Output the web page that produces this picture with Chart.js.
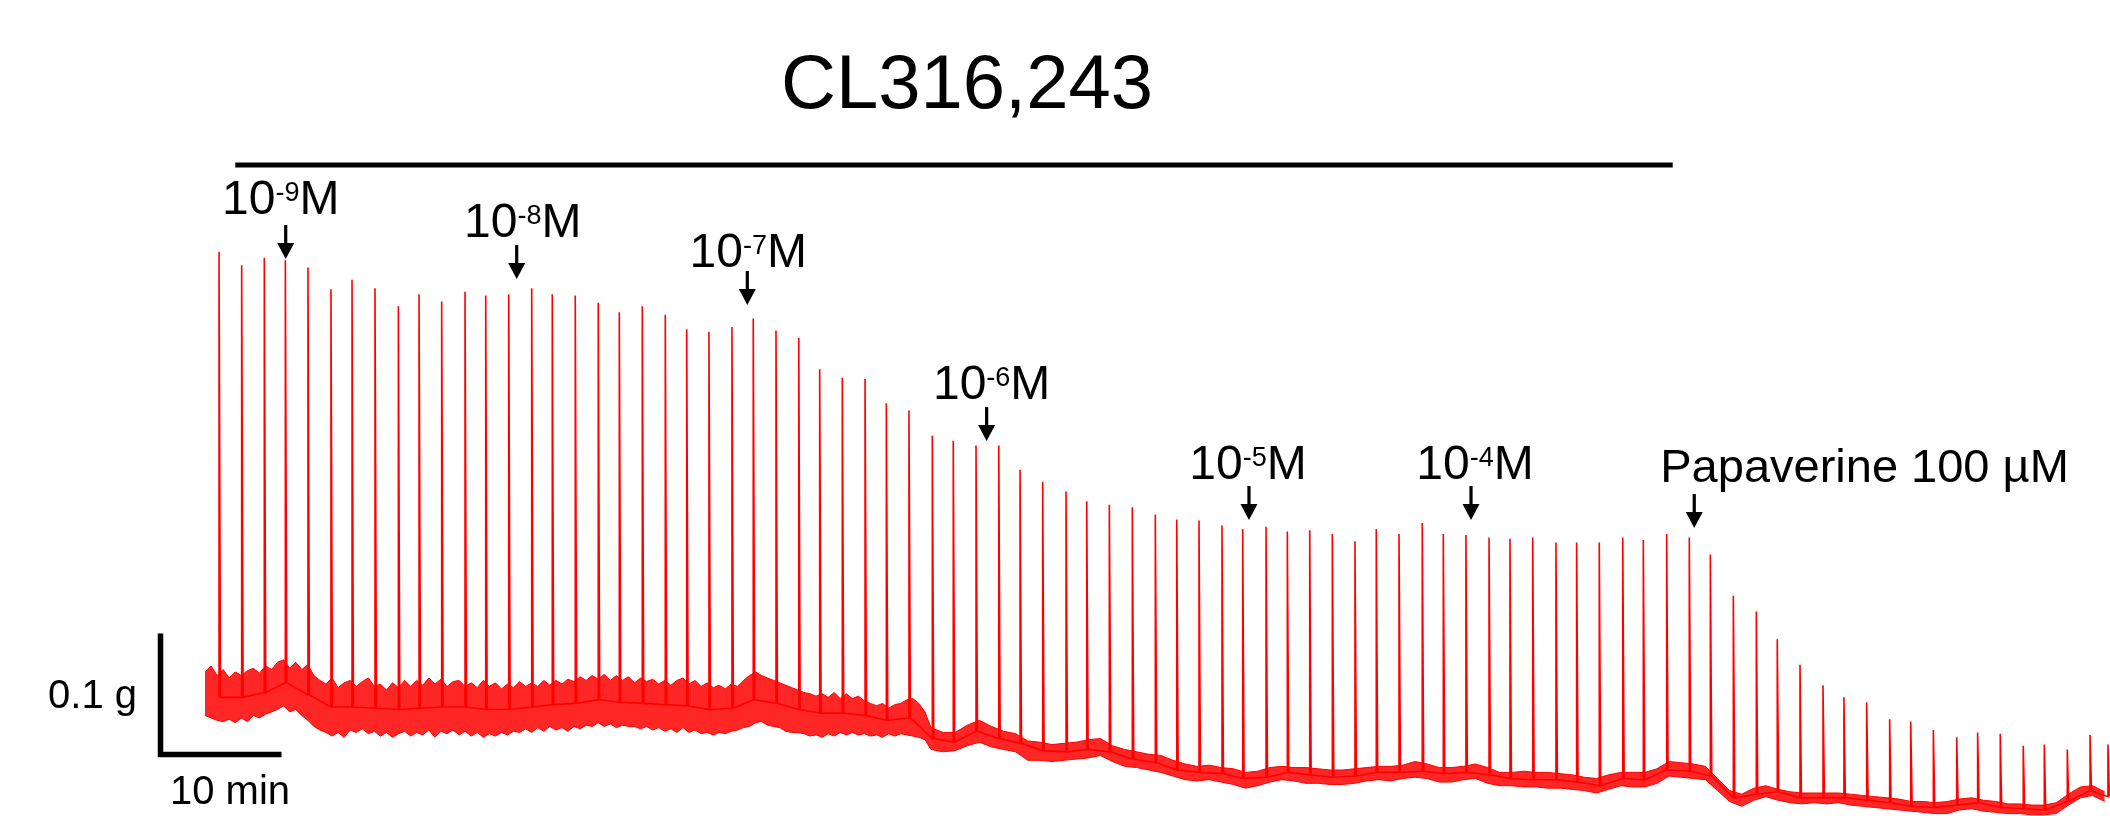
<!DOCTYPE html>
<html>
<head>
<meta charset="utf-8">
<title>CL316,243</title>
<script src="https://cdn.jsdelivr.net/npm/chart.js@4/dist/chart.umd.min.js"></script>
<style>
  html, body { margin: 0; padding: 0; background: #fff; }
  canvas { display: block; }
</style>
</head>
<body>
<canvas id="traceChart" width="2110" height="816"></canvas>
<script>
// Tension trace (g) vs time (min)

// contractions: time of each twitch, peak tension, tension at its foot
const spikeTimes = [1.16, 3.03, 4.90, 6.64, 8.51, 10.41, 12.15, 14.05, 15.98, 17.69,
  19.56, 21.49, 23.20, 25.10, 27.00, 28.70, 30.60, 32.50, 34.24, 36.14,
  38.04, 39.81, 41.65, 43.55, 45.31, 47.19, 49.07, 50.80, 52.67, 54.55,
  56.31, 58.18, 60.11, 61.84, 63.72, 65.60, 67.36, 69.23, 71.16, 72.87,
  74.74, 76.64, 78.54, 80.31, 82.15, 84.05, 85.76, 87.69, 89.45, 91.30,
  93.17, 95.04, 96.80, 98.68, 100.60, 102.34, 104.21, 106.12, 107.85, 109.73,
  111.65, 113.36, 115.23, 117.17, 118.87, 120.80, 122.67, 124.41, 126.31, 128.21,
  129.94, 131.82, 133.72, 135.45, 137.33, 139.23, 140.97, 142.84, 144.77, 146.50,
  148.37, 150.27, 152.01, 153.91, 155.79, 157.27];
const spikePeak = [0.466, 0.455, 0.461, 0.459, 0.453, 0.435, 0.443, 0.436, 0.421, 0.431,
  0.425, 0.433, 0.430, 0.431, 0.436, 0.431, 0.430, 0.424, 0.416, 0.421,
  0.414, 0.402, 0.400, 0.404, 0.411, 0.401, 0.395, 0.369, 0.362, 0.361,
  0.341, 0.335, 0.314, 0.310, 0.306, 0.306, 0.286, 0.276, 0.268, 0.260,
  0.257, 0.255, 0.249, 0.245, 0.244, 0.240, 0.237, 0.239, 0.235, 0.236,
  0.233, 0.227, 0.237, 0.233, 0.242, 0.233, 0.232, 0.230, 0.229, 0.230,
  0.226, 0.226, 0.226, 0.230, 0.228, 0.233, 0.230, 0.216, 0.182, 0.169,
  0.146, 0.125, 0.108, 0.098, 0.094, 0.080, 0.078, 0.071, 0.065, 0.069,
  0.068, 0.058, 0.059, 0.055, 0.067, 0.059];
const spikeFoot = [0.098, 0.098, 0.102, 0.110, 0.100, 0.090, 0.090, 0.089, 0.088, 0.089,
  0.090, 0.090, 0.088, 0.088, 0.090, 0.092, 0.093, 0.096, 0.094, 0.093,
  0.092, 0.091, 0.088, 0.089, 0.096, 0.093, 0.088, 0.085, 0.085, 0.083,
  0.079, 0.081, 0.064, 0.061, 0.070, 0.064, 0.060, 0.054, 0.053, 0.055,
  0.053, 0.047, 0.044, 0.038, 0.036, 0.035, 0.031, 0.032, 0.036, 0.034,
  0.032, 0.033, 0.036, 0.036, 0.037, 0.035, 0.036, 0.034, 0.031, 0.030,
  0.030, 0.028, 0.025, 0.031, 0.030, 0.038, 0.037, 0.033, 0.015, 0.018,
  0.020, 0.015, 0.015, 0.015, 0.013, 0.011, 0.008, 0.007, 0.009, 0.011,
  0.007, 0.006, 0.005, 0.012, 0.021, 0.016];

// noisy resting tension: upper and lower edge of the band
// every 0.5 min up to 60 min, then every 1 min
const bandTop = [0.119, 0.124, 0.116, 0.121, 0.114, 0.119, 0.116, 0.120, 0.122, 0.118,
  0.124, 0.121, 0.127, 0.129, 0.122, 0.127, 0.121, 0.125, 0.116, 0.112,
  0.109, 0.114, 0.106, 0.110, 0.112, 0.107, 0.111, 0.114, 0.107, 0.109,
  0.104, 0.110, 0.106, 0.112, 0.107, 0.112, 0.108, 0.114, 0.109, 0.113,
  0.107, 0.111, 0.112, 0.107, 0.110, 0.106, 0.112, 0.107, 0.110, 0.105,
  0.109, 0.106, 0.111, 0.107, 0.110, 0.107, 0.112, 0.108, 0.112, 0.109,
  0.113, 0.111, 0.115, 0.112, 0.116, 0.113, 0.117, 0.112, 0.116, 0.112,
  0.115, 0.110, 0.114, 0.111, 0.113, 0.109, 0.112, 0.108, 0.112, 0.114,
  0.109, 0.112, 0.107, 0.110, 0.106, 0.108, 0.105, 0.109, 0.107, 0.112,
  0.116, 0.119, 0.116, 0.114, 0.112, 0.110, 0.108, 0.106, 0.104, 0.102,
  0.101, 0.099, 0.101, 0.098, 0.102, 0.097, 0.101, 0.097, 0.099, 0.095,
  0.093, 0.091, 0.093, 0.089, 0.092, 0.093, 0.096, 0.097, 0.093, 0.086,
  0.073,
  0.069, 0.069, 0.075, 0.079, 0.074, 0.070, 0.068, 0.062, 0.061, 0.059,
  0.060, 0.061, 0.063, 0.064, 0.058, 0.055, 0.053, 0.051, 0.050, 0.046,
  0.043, 0.041, 0.042, 0.040, 0.039, 0.036, 0.037, 0.040, 0.041, 0.040,
  0.040, 0.039, 0.038, 0.038, 0.039, 0.040, 0.041, 0.041, 0.042, 0.045,
  0.043, 0.040, 0.040, 0.041, 0.043, 0.040, 0.036, 0.036, 0.037, 0.036,
  0.036, 0.035, 0.034, 0.032, 0.031, 0.034, 0.036, 0.036, 0.036, 0.039,
  0.045, 0.044, 0.043, 0.041, 0.031, 0.021, 0.018, 0.023, 0.025, 0.022,
  0.020, 0.019, 0.019, 0.019, 0.019, 0.018, 0.017, 0.016, 0.015, 0.014,
  0.012, 0.012, 0.011, 0.012, 0.014, 0.015, 0.013, 0.012, 0.010, 0.010,
  0.009, 0.009, 0.011, 0.018, 0.024, 0.025, 0.020];
const bandBottom = [0.083, 0.081, 0.079, 0.078, 0.080, 0.077, 0.081, 0.078, 0.083, 0.081,
  0.084, 0.086, 0.088, 0.091, 0.086, 0.088, 0.083, 0.079, 0.074, 0.071,
  0.069, 0.066, 0.069, 0.065, 0.071, 0.069, 0.072, 0.068, 0.070, 0.066,
  0.069, 0.065, 0.068, 0.070, 0.066, 0.069, 0.067, 0.071, 0.065, 0.070,
  0.068, 0.071, 0.067, 0.070, 0.066, 0.069, 0.065, 0.068, 0.066, 0.069,
  0.067, 0.070, 0.069, 0.072, 0.069, 0.073, 0.070, 0.074, 0.071, 0.073,
  0.070, 0.074, 0.072, 0.075, 0.074, 0.077, 0.074, 0.076, 0.073, 0.075,
  0.074, 0.074, 0.072, 0.074, 0.071, 0.073, 0.070, 0.072, 0.069, 0.073,
  0.069, 0.071, 0.068, 0.069, 0.067, 0.069, 0.068, 0.070, 0.071, 0.073,
  0.074, 0.077, 0.078, 0.075, 0.074, 0.073, 0.070, 0.069, 0.069, 0.068,
  0.066, 0.067, 0.065, 0.068, 0.066, 0.069, 0.067, 0.069, 0.067, 0.068,
  0.066, 0.067, 0.065, 0.068, 0.066, 0.068, 0.067, 0.066, 0.065, 0.063,
  0.055,
  0.053, 0.054, 0.058, 0.061, 0.057, 0.055, 0.053, 0.046, 0.046, 0.045,
  0.046, 0.047, 0.048, 0.050, 0.045, 0.041, 0.040, 0.038, 0.036, 0.033,
  0.030, 0.029, 0.030, 0.028, 0.026, 0.023, 0.025, 0.028, 0.030, 0.029,
  0.027, 0.027, 0.026, 0.026, 0.027, 0.029, 0.030, 0.029, 0.031, 0.032,
  0.031, 0.028, 0.028, 0.030, 0.031, 0.027, 0.025, 0.025, 0.024, 0.024,
  0.023, 0.023, 0.022, 0.021, 0.019, 0.022, 0.025, 0.024, 0.024, 0.027,
  0.033, 0.032, 0.031, 0.030, 0.021, 0.012, 0.008, 0.013, 0.016, 0.013,
  0.011, 0.010, 0.011, 0.010, 0.011, 0.009, 0.008, 0.007, 0.006, 0.005,
  0.004, 0.003, 0.002, 0.002, 0.005, 0.006, 0.004, 0.003, 0.002, 0.002,
  0.001, 0.001, 0.002, 0.009, 0.015, 0.017, 0.012];

// drug additions
const doseTimes = [6.67, 25.76, 44.82, 64.60, 86.28, 104.63, 123.08];
const doseExponents = ["-9", "-8", "-7", "-6", "-5", "-4"];
const papaverineLabel = "Papaverine 100 \u00B5M";
const treatmentSpan = [2.5, 121.3]; // CL316,243 present (bar under title)
const TITLE = "CL316,243";

const X_MAX = 157.44; // min shown
const Y_MAX = 0.674;  // g shown
const RELAX_MIN = 0.12; // relaxation time of one twitch

// layout of the labels (px)
const labelBaseline = [214, 237, 267, 399, 479, 479, 482];
const arrowTip = [259, 279, 305, 441, 520, 520, 528];
const labelShift = [-5, 6, 1, 5, -1, 4];
const FONT = '"Liberation Sans", Arial, Helvetica, sans-serif';

// build the band grid (0.5 min steps, then 1 min)
const bandTimes = [];
for (let t = 0; t <= 60; t += 0.5) bandTimes.push(t);
for (let t = 61; t <= 157; t += 1) bandTimes.push(t);

const topPoints = bandTimes.map((t, i) => ({ x: t, y: bandTop[i] }));
const bottomPoints = bandTimes.map((t, i) => ({ x: t, y: bandBottom[i] }));

const spikePoints = [];
spikeTimes.forEach((t, i) => {
  spikePoints.push({ x: t, y: spikeFoot[i] });
  spikePoints.push({ x: t, y: spikePeak[i] });
  spikePoints.push({ x: t + RELAX_MIN, y: spikeFoot[i] });
});

function drawArrow(c, x, tip) {
  c.fillStyle = "#000";
  c.fillRect(x - 1.6, tip - 34, 3.2, 20);
  c.beginPath();
  c.moveTo(x - 8.5, tip - 16);
  c.lineTo(x + 8.5, tip - 16);
  c.lineTo(x, tip);
  c.closePath();
  c.fill();
}

// label like 10^-9 M with a raised exponent
function drawDoseLabel(c, cx, base, exp) {
  c.font = "48px " + FONT;
  const w10 = c.measureText("10").width;
  const wM = c.measureText("M").width;
  c.font = "27px " + FONT;
  const wExp = c.measureText(exp).width;
  const x0 = cx - (w10 + wExp + wM) / 2;
  c.textAlign = "left";
  c.font = "48px " + FONT;
  c.fillText("10", x0, base);
  c.font = "27px " + FONT;
  c.fillText(exp, x0 + w10, base - 13);
  c.font = "48px " + FONT;
  c.fillText("M", x0 + w10 + wExp, base);
}

const annotations = {
  id: "annotations",
  afterDraw(chart) {
    const c = chart.ctx;
    const xs = chart.scales.x;
    const ys = chart.scales.y;
    c.save();
    c.fillStyle = "#000";
    c.textBaseline = "alphabetic";

    // title + treatment bar
    c.font = "76px " + FONT;
    c.textAlign = "center";
    c.fillText(TITLE, 967, 108);
    const b0 = xs.getPixelForValue(treatmentSpan[0]);
    const b1 = xs.getPixelForValue(treatmentSpan[1]);
    c.fillRect(b0, 162.5, b1 - b0, 5);

    // dose arrows and labels
    doseTimes.forEach((t, i) => {
      const x = xs.getPixelForValue(t);
      drawArrow(c, x, arrowTip[i]);
      if (i < doseExponents.length) {
        drawDoseLabel(c, x + labelShift[i], labelBaseline[i], doseExponents[i]);
      } else {
        c.font = "47px " + FONT;
        c.textAlign = "left";
        c.fillText(papaverineLabel, x - 34, labelBaseline[i]);
      }
    });

    // scale bars: 10 min and 0.1 g
    const tenMin = xs.getPixelForValue(10) - xs.getPixelForValue(0);
    const tenthG = ys.getPixelForValue(0) - ys.getPixelForValue(0.1);
    const cx = 160.5, cy = 754.5;
    c.strokeStyle = "#000";
    c.lineWidth = 5.5;
    c.lineJoin = "miter";
    c.beginPath();
    c.moveTo(cx, cy - tenthG);
    c.lineTo(cx, cy);
    c.lineTo(cx + tenMin, cy);
    c.stroke();
    c.font = "40px " + FONT;
    c.textAlign = "right";
    c.fillText("0.1 g", 137, 708);
    c.textAlign = "center";
    c.fillText("10 min", 230, 804);
    c.restore();
  }
};

const ctx = document.getElementById("traceChart").getContext("2d");
const traceChart = new Chart(ctx, {
  type: "line",
  data: {
    datasets: [
      {
        label: "band top",
        data: topPoints,
        borderColor: "#ff0000",
        borderWidth: 1,
        backgroundColor: "rgba(255,0,0,0.85)",
        fill: "+1",
      },
      {
        label: "band bottom",
        data: bottomPoints,
        borderColor: "#ff0000",
        borderWidth: 1,
        fill: false,
      },
      {
        label: "contractions",
        data: spikePoints,
        borderColor: "#ff0000",
        borderWidth: 1.6,
        fill: false,
      },
    ],
  },
  options: {
    responsive: false,
    devicePixelRatio: 1,
    animation: false,
    parsing: true,
    layout: { padding: { left: 205, right: 0, top: 0, bottom: 0 } },
    elements: {
      point: { radius: 0, hoverRadius: 0 },
      line: { tension: 0 },
    },
    plugins: {
      legend: { display: false },
      tooltip: { enabled: false },
      title: { display: false },
    },
    scales: {
      x: { type: "linear", min: 0, max: X_MAX, display: false },
      y: { min: 0, max: Y_MAX, display: false },
    },
  },
  plugins: [annotations],
});
</script>
</body>
</html>
